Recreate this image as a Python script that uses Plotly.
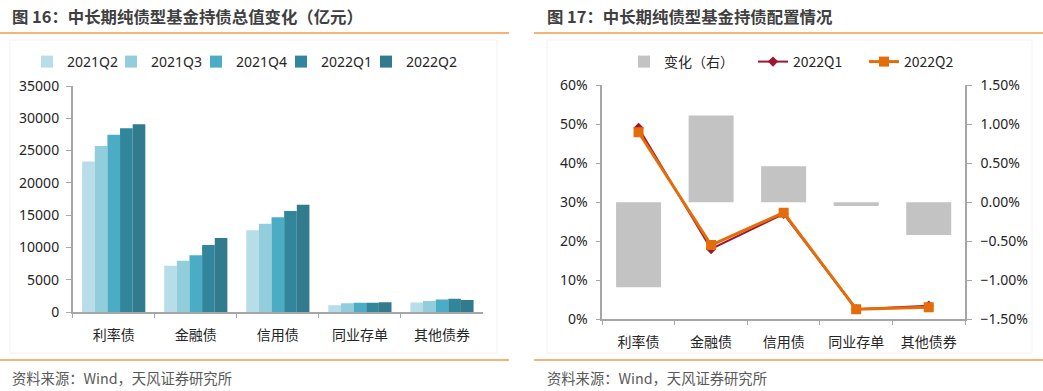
import plotly.graph_objects as go

# ---------------- data ----------------
categories = ["利率债", "金融债", "信用债", "同业存单", "其他债券"]
quarters = ["2021Q2", "2021Q3", "2021Q4", "2022Q1", "2022Q2"]
holdings = {
    "2021Q2": [23300, 7170, 12650, 1040, 1490],
    "2021Q3": [25700, 7950, 13650, 1350, 1700],
    "2021Q4": [27450, 8780, 14670, 1440, 1950],
    "2022Q1": [28450, 10380, 15640, 1440, 2060],
    "2022Q2": [29070, 11460, 16620, 1500, 1860],
}
bar_colors = ["#b7dde8", "#92cddc", "#4bacc6", "#31869b", "#327b8f"]

share_2022q1 = [0.490, 0.180, 0.270, 0.026, 0.035]
share_2022q2 = [0.479, 0.190, 0.273, 0.026, 0.031]
share_change = [-0.0109, 0.0111, 0.0046, -0.0005, -0.0042]

left_ticks = [0, 5000, 10000, 15000, 20000, 25000, 30000, 35000]

W, H = 1043, 391
FONT = "Noto Sans, Noto Sans CJK SC, sans-serif"
CJK = "Noto Sans CJK SC, sans-serif"
AXIS_C = "#a6a6a6"
TXT_C = "#262626"

def px(x):
    return x / W

def py(y):
    return 1 - y / H

# legend ids / x positions (pixels) for each legend entry
left_legend_ids = ["legend", "legend2", "legend3", "legend4", "legend5"]
left_legend_x = [27, 111, 196, 281, 366]
right_legend_ids = ["legend6", "legend7", "legend8"]
right_legend_x = [624, 753, 864]

fig = go.Figure()

# left chart grouped bars
for q, c, lid in zip(quarters, bar_colors, left_legend_ids):
    fig.add_trace(go.Bar(
        x=categories, y=holdings[q], name=q, marker=dict(color=c, line=dict(width=0)),
        xaxis="x", yaxis="y", legend=lid, showlegend=True,
    ))

# right chart: change bars (right axis) + lines (left axis)
fig.add_trace(go.Bar(
    x=categories, y=share_change, name="变化（右）", width=0.62,
    marker=dict(color="#c3c3c3", line=dict(width=0)),
    xaxis="x2", yaxis="y2", legend=right_legend_ids[0], showlegend=True,
))
fig.add_trace(go.Scatter(
    x=categories, y=share_2022q1, name="2022Q1", mode="lines+markers",
    line=dict(color="#a0162e", width=2),
    marker=dict(symbol="diamond", size=8, color="#a0162e"),
    xaxis="x2", yaxis="y3", legend=right_legend_ids[1], showlegend=True,
))
fig.add_trace(go.Scatter(
    x=categories, y=share_2022q2, name="2022Q2", mode="lines+markers",
    line=dict(color="#e46c0a", width=3),
    marker=dict(symbol="square", size=10, color="#e46c0a"),
    xaxis="x2", yaxis="y3", legend=right_legend_ids[2], showlegend=True,
))

tickfont = dict(family=FONT, size=14, color=TXT_C)
catfont = dict(family=CJK, size=14, color=TXT_C)

common_x = dict(
    type="category", showline=True, linecolor=AXIS_C, linewidth=1.5,
    ticks="outside", tickson="boundaries", ticklen=4, tickcolor=AXIS_C,
    tickfont=catfont, showgrid=False, zeroline=False, automargin=False,
    ticklabelstandoff=9,
)
common_y = dict(
    showline=True, linecolor=AXIS_C, linewidth=1.5,
    ticks="outside", ticklen=5, tickcolor=AXIS_C,
    tickfont=tickfont, showgrid=False, zeroline=False, automargin=False,
)

layout_kw = dict(
    width=W, height=H,
    margin=dict(l=0, r=0, t=0, b=0),
    showlegend=True,
    paper_bgcolor="white", plot_bgcolor="rgba(0,0,0,0)",
    barmode="group", bargap=0.23, bargroupgap=0,
    font=dict(family=FONT, color=TXT_C),
    xaxis=dict(domain=[px(72.7), px(483)], anchor="y", **common_x),
    yaxis=dict(domain=[py(312), py(86)], anchor="x", range=[0, 35000],
               tickvals=left_ticks, ticktext=[str(v) for v in left_ticks],
               ticklabelstandoff=4, **common_y),
    xaxis2=dict(domain=[px(602.3), px(965)], anchor="y3", **common_x),
    yaxis2=dict(domain=[py(319.3), py(85)], anchor="x2", side="right",
                range=[-0.015, 0.015], dtick=0.005, tickformat=".2%",
                ticklabelstandoff=6, **common_y),
    yaxis3=dict(overlaying="y2", anchor="x2", side="left",
                range=[0, 0.6], dtick=0.1, tickformat=".0%",
                ticklabelstandoff=5, **common_y),
)

for lid, lx in zip(left_legend_ids, left_legend_x):
    layout_kw[lid] = dict(
        visible=True, orientation="h", x=px(lx), y=py(62), xanchor="left", yanchor="middle",
        font=dict(family=FONT, size=14, color=TXT_C), itemwidth=30,
        bgcolor="rgba(0,0,0,0)", itemclick=False,
    )
for lid, lx in zip(right_legend_ids, right_legend_x):
    layout_kw[lid] = dict(
        visible=True, orientation="h", x=px(lx), y=py(62), xanchor="left", yanchor="middle",
        font=dict(family=CJK, size=14, color=TXT_C), itemwidth=30,
        bgcolor="rgba(0,0,0,0)", itemclick=False,
    )

fig.update_layout(**layout_kw)

shapes = []
# faint panel frames
shapes.append(dict(type="rect", xref="paper", yref="paper",
                   x0=px(10), x1=px(497), y0=py(353), y1=py(40),
                   line=dict(color="#f2f2f2", width=1), layer="below"))
shapes.append(dict(type="rect", xref="paper", yref="paper",
                   x0=px(547), x1=px(1032), y0=py(353), y1=py(40),
                   line=dict(color="#f2f2f2", width=1), layer="below"))
# orange separator lines
for (x0, x1) in [(0, 509), (534, 1043)]:
    for yy in (33, 360):
        shapes.append(dict(type="line", xref="paper", yref="paper",
                           x0=px(x0), x1=px(x1), y0=py(yy), y1=py(yy),
                           line=dict(color="#f39a4a", width=1.5)))
fig.update_layout(shapes=shapes)

annotations = [
    dict(text="<b>图 16：中长期纯债型基金持债总值变化（亿元）</b>", x=px(10), y=py(16),
         xref="paper", yref="paper", xanchor="left", yanchor="middle", showarrow=False,
         font=dict(family=CJK, size=16.4, color="#404040")),
    dict(text="<b>图 17：中长期纯债型基金持债配置情况</b>", x=px(545), y=py(16),
         xref="paper", yref="paper", xanchor="left", yanchor="middle", showarrow=False,
         font=dict(family=CJK, size=16.4, color="#404040")),
    dict(text="资料来源：Wind，天风证券研究所", x=px(10), y=py(377),
         xref="paper", yref="paper", xanchor="left", yanchor="middle", showarrow=False,
         font=dict(family=CJK, size=14.3, color="#595959")),
    dict(text="资料来源：Wind，天风证券研究所", x=px(545), y=py(377),
         xref="paper", yref="paper", xanchor="left", yanchor="middle", showarrow=False,
         font=dict(family=CJK, size=14.3, color="#595959")),
]
fig.update_layout(annotations=annotations)

fig.write_html(
    "out.html",
    config={"displayModeBar": False},
    post_script="document.body.style.margin='0';document.body.style.overflow='hidden';",
)
